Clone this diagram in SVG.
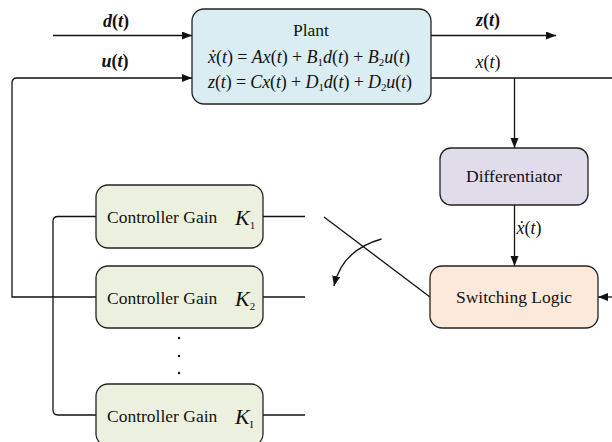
<svg xmlns="http://www.w3.org/2000/svg" width="612" height="442" viewBox="0 0 612 442">
<style>
.box{stroke:#222;stroke-width:1.3}
.plant{fill:#daedf3}
.diff{fill:#e1dcea}
.sw{fill:#fde9da}
.gain{fill:#ebf1de}
.t{font-family:"Liberation Serif","Times New Roman",serif;font-size:17.5px;fill:#111}
.eq{font-family:"Liberation Serif","Times New Roman",serif;font-size:18px;font-style:italic;fill:#111}
.up{font-style:normal}
.sub{font-style:normal;font-size:11px}
.lab{font-family:"Liberation Serif","Times New Roman",serif;font-size:18px;font-style:italic;fill:#111;text-anchor:middle}
.b{font-weight:bold}
.k{font-family:"Liberation Serif","Times New Roman",serif;font-size:22px;font-style:italic;fill:#111}
.c{fill:none;stroke:#111;stroke-width:1.3}
</style>
<defs>
<marker id="ar" markerUnits="userSpaceOnUse" markerWidth="11" markerHeight="9" refX="10" refY="4" orient="auto">
<path d="M0,0 L10,4 L0,8 z" fill="#111"/>
</marker>
</defs>
<g id="connectors">
<path class="c" d="M53,35.5 H192" marker-end="url(#ar)"/>
<path class="c" d="M96,297 H12 V83 Q12,78 17,78 H192" marker-end="url(#ar)"/>
<path class="c" d="M431,35.5 H556" marker-end="url(#ar)"/>
<path class="c" d="M431,78 H612"/>
<path class="c" d="M514.5,78 V148" marker-end="url(#ar)"/>
<path class="c" d="M514.5,205 V266" marker-end="url(#ar)"/>
<path class="c" d="M612,297 H598" marker-end="url(#ar)"/>
<path class="c" d="M263,216.5 H305"/>
<path class="c" d="M263,297 H305"/>
<path class="c" d="M263,415 H305"/>
<path class="c" d="M96,216.5 H58 Q53,216.5 53,221.5 V410 Q53,415 58,415 H96"/>
<path class="c" d="M324,217 L430,297"/>
<path class="c" d="M381.5,239 Q342,250 334,286" marker-end="url(#ar)"/>
<text class="lab b" x="116" y="27">d<tspan class="up">(</tspan>t<tspan class="up">)</tspan></text>
<text class="lab b" x="115" y="67">u<tspan class="up">(</tspan>t<tspan class="up">)</tspan></text>
<text class="lab b" x="488" y="26">z<tspan class="up">(</tspan>t<tspan class="up">)</tspan></text>
<text class="lab" x="488" y="68">x<tspan class="up">(</tspan>t<tspan class="up">)</tspan></text>
<text class="lab" x="529" y="234">x&#x307;<tspan class="up">(</tspan>t<tspan class="up">)</tspan></text>
</g>
<g id="plant">
<rect class="box plant" x="192" y="9" width="239" height="95" rx="12"/>
<text class="t" x="311" y="36" text-anchor="middle">Plant</text>
<text class="eq" x="208" y="63" textLength="202" lengthAdjust="spacing">x&#x307;<tspan class="up">(</tspan>t<tspan class="up">) = </tspan>Ax<tspan class="up">(</tspan>t<tspan class="up">) + </tspan>B<tspan class="sub" dy="3">1</tspan><tspan dy="-3">d</tspan><tspan class="up">(</tspan>t<tspan class="up">) + </tspan>B<tspan class="sub" dy="3">2</tspan><tspan dy="-3">u</tspan><tspan class="up">(</tspan>t<tspan class="up">)</tspan></text>
<text class="eq" x="208" y="88" textLength="204" lengthAdjust="spacing">z<tspan class="up">(</tspan>t<tspan class="up">) = </tspan>Cx<tspan class="up">(</tspan>t<tspan class="up">) + </tspan>D<tspan class="sub" dy="3">1</tspan><tspan dy="-3">d</tspan><tspan class="up">(</tspan>t<tspan class="up">) + </tspan>D<tspan class="sub" dy="3">2</tspan><tspan dy="-3">u</tspan><tspan class="up">(</tspan>t<tspan class="up">)</tspan></text>
</g>
<g id="differentiator">
<rect class="box diff" x="440" y="148" width="148" height="57" rx="11"/>
<text class="t" x="514" y="182" text-anchor="middle">Differentiator</text>
</g>
<g id="switching">
<rect class="box sw" x="430" y="266" width="168" height="62" rx="12"/>
<text class="t" x="514" y="303" text-anchor="middle">Switching Logic</text>
</g>
<g id="gain1">
<rect class="box gain" x="96" y="185" width="167" height="63" rx="12"/>
<text class="t" x="107" y="223">Controller Gain</text>
<text class="k" x="235" y="225">K<tspan class="sub" font-size="12" dy="4">1</tspan></text>
</g>
<g id="gain2">
<rect class="box gain" x="96" y="266" width="167" height="62" rx="12"/>
<text class="t" x="107" y="304">Controller Gain</text>
<text class="k" x="235" y="306">K<tspan class="sub" font-size="12" dy="4">2</tspan></text>
</g>
<g id="dots">
<circle cx="179" cy="338" r="1.2" fill="#111"/>
<circle cx="179" cy="356" r="1.2" fill="#111"/>
<circle cx="179" cy="373" r="1.2" fill="#111"/>
</g>
<g id="gainI">
<rect class="box gain" x="96" y="384" width="167" height="62" rx="12"/>
<text class="t" x="107" y="422">Controller Gain</text>
<text class="k" x="235" y="424">K<tspan class="sub" font-size="12" font-style="italic" dy="4">I</tspan></text>
</g>
</svg>
